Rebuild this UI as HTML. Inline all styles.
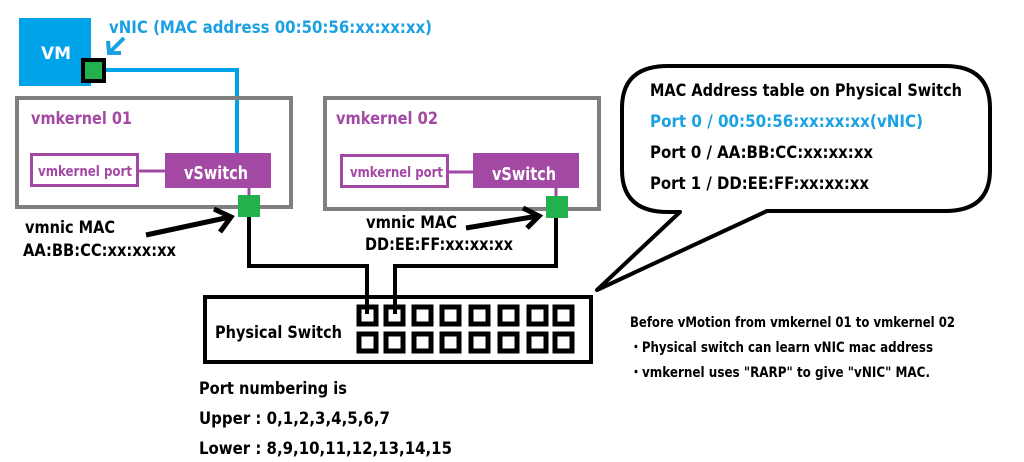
<!DOCTYPE html>
<html><head><meta charset="utf-8"><style>
html,body{margin:0;padding:0;background:#fff;}
svg{display:block;}
text{font-family:"DejaVu Sans","Liberation Sans",sans-serif;font-weight:bold;}
</style></head><body>
<svg width="1024" height="462" viewBox="0 0 1024 462" xmlns="http://www.w3.org/2000/svg">
<!-- VM -->
<rect x="19" y="18" width="72" height="68" fill="#00a2e8"/>
<text x="41" y="59" font-size="17" fill="#fff">VM</text>
<text x="109" y="33" font-size="17" fill="#1ba1e2" textLength="323" lengthAdjust="spacingAndGlyphs">vNIC (MAC address 00:50:56:xx:xx:xx)</text>
<!-- blue arrow -->
<line x1="124" y1="38" x2="110" y2="52" stroke="#1ba1e2" stroke-width="4"/>
<polyline points="108,41 109,53 121,53" fill="none" stroke="#1ba1e2" stroke-width="4"/>
<!-- blue line -->
<polyline points="104,70 237,70 237,155" fill="none" stroke="#00a2e8" stroke-width="4"/>
<rect x="83" y="60" width="21" height="21" fill="#22b14c" stroke="#000" stroke-width="4"/>

<!-- vmkernel 01 -->
<rect x="17" y="98" width="274" height="109" fill="none" stroke="#7f7f7f" stroke-width="4"/>
<text x="31" y="124" font-size="17" fill="#a349a4" textLength="101" lengthAdjust="spacingAndGlyphs">vmkernel 01</text>
<rect x="31.5" y="154.5" width="106" height="31" fill="#fff" stroke="#a349a4" stroke-width="3"/>
<text x="38" y="176" font-size="14" fill="#a349a4" textLength="94" lengthAdjust="spacingAndGlyphs">vmkernel port</text>
<line x1="139" y1="171" x2="165" y2="171" stroke="#a349a4" stroke-width="3"/>
<rect x="165" y="153" width="106" height="35" fill="#a349a4"/>
<text x="184" y="179" font-size="18" fill="#fff" textLength="64" lengthAdjust="spacingAndGlyphs">vSwitch</text>
<line x1="249" y1="188" x2="249" y2="196" stroke="#a349a4" stroke-width="3"/>
<rect x="238" y="195" width="22" height="22" fill="#22b14c"/>

<!-- vmkernel 02 -->
<rect x="325" y="98" width="274" height="111" fill="none" stroke="#7f7f7f" stroke-width="4"/>
<text x="336" y="124" font-size="17" fill="#a349a4" textLength="102" lengthAdjust="spacingAndGlyphs">vmkernel 02</text>
<rect x="341.5" y="155.5" width="106" height="31" fill="#fff" stroke="#a349a4" stroke-width="3"/>
<text x="350" y="177" font-size="14" fill="#a349a4" textLength="93" lengthAdjust="spacingAndGlyphs">vmkernel port</text>
<line x1="449" y1="172" x2="473" y2="172" stroke="#a349a4" stroke-width="3"/>
<rect x="473" y="153" width="106" height="35" fill="#a349a4"/>
<text x="492" y="180" font-size="18" fill="#fff" textLength="64" lengthAdjust="spacingAndGlyphs">vSwitch</text>
<line x1="556" y1="188" x2="556" y2="197" stroke="#a349a4" stroke-width="3"/>
<rect x="546" y="196" width="22" height="22" fill="#22b14c"/>

<!-- vmnic labels -->
<text x="25" y="233" font-size="17" fill="#000" textLength="90" lengthAdjust="spacingAndGlyphs">vmnic MAC</text>
<text x="23" y="256" font-size="17" fill="#000" textLength="153" lengthAdjust="spacingAndGlyphs">AA:BB:CC:xx:xx:xx</text>
<text x="366" y="228" font-size="17" fill="#000" textLength="91" lengthAdjust="spacingAndGlyphs">vmnic MAC</text>
<text x="365" y="250" font-size="17" fill="#000" textLength="148" lengthAdjust="spacingAndGlyphs">DD:EE:FF:xx:xx:xx</text>
<!-- black arrows -->
<line x1="146" y1="235" x2="230" y2="217" stroke="#000" stroke-width="5"/>
<polyline points="214,209 231,217 220,232" fill="none" stroke="#000" stroke-width="5"/>
<line x1="466" y1="228" x2="538" y2="216" stroke="#000" stroke-width="5"/>
<polyline points="523,208 539,216 527,228" fill="none" stroke="#000" stroke-width="5"/>

<!-- connection lines -->
<polyline points="249,217 249,266 367,266 367,314" fill="none" stroke="#000" stroke-width="4"/>
<polyline points="556,218 556,266 395,266 395,314" fill="none" stroke="#000" stroke-width="4"/>

<!-- physical switch -->
<rect x="205" y="297" width="386" height="65" fill="none" stroke="#000" stroke-width="4"/>
<text x="215" y="338" font-size="17" fill="#000" textLength="127" lengthAdjust="spacingAndGlyphs">Physical Switch</text>
<g fill="none" stroke="#000" stroke-width="5">
<rect x="359" y="307" width="17" height="17"/><rect x="386" y="307" width="17" height="17"/>
<rect x="414" y="307" width="17" height="17"/><rect x="442" y="307" width="17" height="17"/>
<rect x="471" y="307" width="17" height="17"/><rect x="500" y="307" width="17" height="17"/>
<rect x="529" y="307" width="17" height="17"/><rect x="555" y="307" width="17" height="17"/>
<rect x="359" y="334" width="17" height="17"/><rect x="386" y="334" width="17" height="17"/>
<rect x="414" y="334" width="17" height="17"/><rect x="442" y="334" width="17" height="17"/>
<rect x="471" y="334" width="17" height="17"/><rect x="500" y="334" width="17" height="17"/>
<rect x="529" y="334" width="17" height="17"/><rect x="555" y="334" width="17" height="17"/>
</g>
<text x="199" y="394" font-size="17" fill="#000" textLength="148" lengthAdjust="spacingAndGlyphs">Port numbering is</text>
<text x="199" y="424" font-size="17" fill="#000" textLength="191" lengthAdjust="spacingAndGlyphs">Upper : 0,1,2,3,4,5,6,7</text>
<text x="199" y="454" font-size="17" fill="#000" textLength="253" lengthAdjust="spacingAndGlyphs">Lower : 8,9,10,11,12,13,14,15</text>

<!-- bubble -->
<path d="M 680,212 L 597,290 L 767,211 L 945,211 Q 990,211 990,170 L 990,108 Q 990,66 945,66 L 668,66 Q 622,66 622,108 L 622,170 Q 622,212 668,212 Z" fill="#fff" stroke="#000" stroke-width="4" stroke-linejoin="round"/>
<text x="650" y="96" font-size="17" fill="#000" textLength="312" lengthAdjust="spacingAndGlyphs">MAC Address table on Physical Switch</text>
<text x="650" y="127" font-size="17" fill="#1ba1e2" textLength="273" lengthAdjust="spacingAndGlyphs">Port 0 / 00:50:56:xx:xx:xx(vNIC)</text>
<text x="650" y="158" font-size="17" fill="#000" textLength="223" lengthAdjust="spacingAndGlyphs">Port 0 / AA:BB:CC:xx:xx:xx</text>
<text x="650" y="189" font-size="17" fill="#000" textLength="219" lengthAdjust="spacingAndGlyphs">Port 1 / DD:EE:FF:xx:xx:xx</text>

<!-- notes -->
<text x="630" y="327" font-size="14" fill="#000" textLength="325" lengthAdjust="spacingAndGlyphs">Before vMotion from vmkernel 01 to vmkernel 02</text>
<text x="630" y="352" font-size="14" fill="#000" textLength="303" lengthAdjust="spacingAndGlyphs">・Physical switch can learn vNIC mac address</text>
<text x="630" y="377" font-size="14" fill="#000" textLength="300" lengthAdjust="spacingAndGlyphs">・vmkernel uses "RARP" to give "vNIC" MAC.</text>
</svg>
</body></html>
